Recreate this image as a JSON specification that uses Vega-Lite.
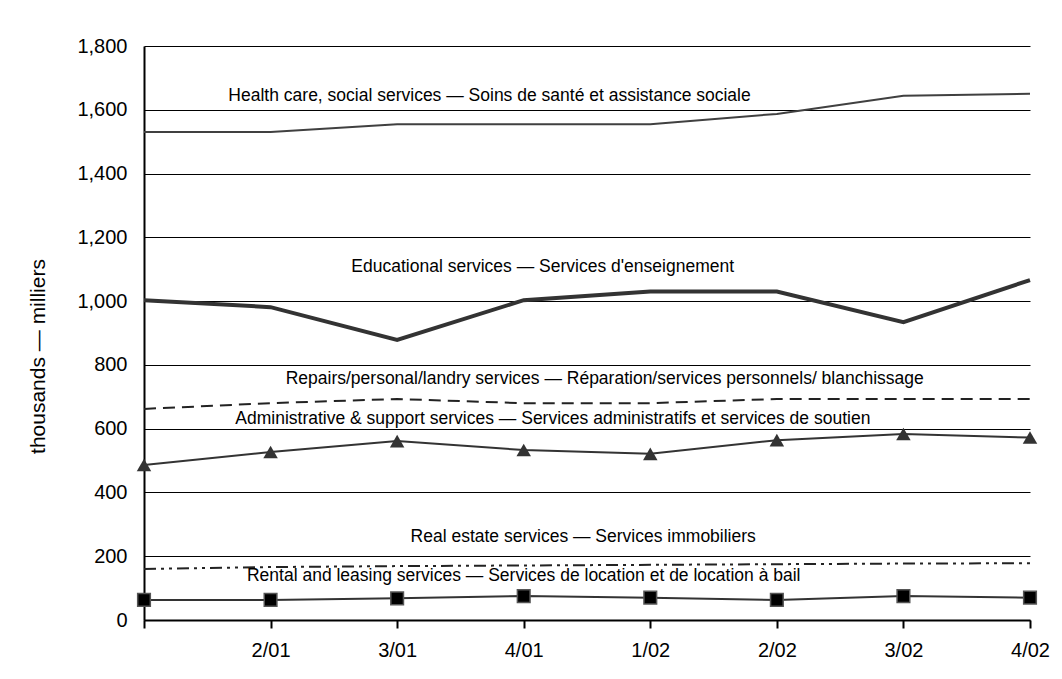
{
  "$schema": "https://vega.github.io/schema/vega-lite/v6.json",
  "width": 886,
  "height": 574,
  "autosize": {"type": "none"},
  "padding": {"left": 144, "top": 46, "right": 32, "bottom": 59},
  "background": "white",
  "config": {
    "view": {"stroke": null},
    "font": "Liberation Sans",
    "axis": {"labelColor": "#000", "titleColor": "#000", "labelFont": "Liberation Sans", "titleFont": "Liberation Sans"}
  },
  "datasets": {
    "series": [
      {"quarter": "1/01", "series": "Health", "value": 1530},
      {"quarter": "2/01", "series": "Health", "value": 1530},
      {"quarter": "3/01", "series": "Health", "value": 1555},
      {"quarter": "4/01", "series": "Health", "value": 1555},
      {"quarter": "1/02", "series": "Health", "value": 1555},
      {"quarter": "2/02", "series": "Health", "value": 1587},
      {"quarter": "3/02", "series": "Health", "value": 1644},
      {"quarter": "4/02", "series": "Health", "value": 1650},
      {"quarter": "1/01", "series": "Educational", "value": 1003},
      {"quarter": "2/01", "series": "Educational", "value": 981},
      {"quarter": "3/01", "series": "Educational", "value": 878},
      {"quarter": "4/01", "series": "Educational", "value": 1003},
      {"quarter": "1/02", "series": "Educational", "value": 1030},
      {"quarter": "2/02", "series": "Educational", "value": 1030},
      {"quarter": "3/02", "series": "Educational", "value": 934},
      {"quarter": "4/02", "series": "Educational", "value": 1066},
      {"quarter": "1/01", "series": "Repairs", "value": 662},
      {"quarter": "2/01", "series": "Repairs", "value": 680},
      {"quarter": "3/01", "series": "Repairs", "value": 693},
      {"quarter": "4/01", "series": "Repairs", "value": 680},
      {"quarter": "1/02", "series": "Repairs", "value": 680},
      {"quarter": "2/02", "series": "Repairs", "value": 693},
      {"quarter": "3/02", "series": "Repairs", "value": 693},
      {"quarter": "4/02", "series": "Repairs", "value": 693},
      {"quarter": "1/01", "series": "Admin", "value": 486},
      {"quarter": "2/01", "series": "Admin", "value": 527},
      {"quarter": "3/01", "series": "Admin", "value": 561},
      {"quarter": "4/01", "series": "Admin", "value": 533},
      {"quarter": "1/02", "series": "Admin", "value": 521},
      {"quarter": "2/02", "series": "Admin", "value": 564},
      {"quarter": "3/02", "series": "Admin", "value": 583},
      {"quarter": "4/02", "series": "Admin", "value": 572},
      {"quarter": "1/01", "series": "RealEstate", "value": 160},
      {"quarter": "2/01", "series": "RealEstate", "value": 166},
      {"quarter": "3/01", "series": "RealEstate", "value": 169},
      {"quarter": "4/01", "series": "RealEstate", "value": 171},
      {"quarter": "1/02", "series": "RealEstate", "value": 173},
      {"quarter": "2/02", "series": "RealEstate", "value": 175},
      {"quarter": "3/02", "series": "RealEstate", "value": 177},
      {"quarter": "4/02", "series": "RealEstate", "value": 178},
      {"quarter": "1/01", "series": "Rental", "value": 63},
      {"quarter": "2/01", "series": "Rental", "value": 63},
      {"quarter": "3/01", "series": "Rental", "value": 68},
      {"quarter": "4/01", "series": "Rental", "value": 75},
      {"quarter": "1/02", "series": "Rental", "value": 70},
      {"quarter": "2/02", "series": "Rental", "value": 63},
      {"quarter": "3/02", "series": "Rental", "value": 75},
      {"quarter": "4/02", "series": "Rental", "value": 70}
    ],
    "labels": [
      {"pos": 2.73, "value": 1643, "text": "Health care, social services — Soins de santé et assistance sociale"},
      {"pos": 3.15, "value": 1107, "text": "Educational services — Services d'enseignement"},
      {"pos": 3.64, "value": 756, "text": "Repairs/personal/landry services — Réparation/services personnels/ blanchissage"},
      {"pos": 3.23, "value": 630, "text": "Administrative & support services — Services administratifs et services de soutien"},
      {"pos": 3.47, "value": 260, "text": "Real estate services — Services immobiliers"},
      {"pos": 3.0, "value": 138, "text": "Rental and leasing services — Services de location et de location à bail"}
    ]
  },
  "layer": [
    {
      "data": {"name": "series"},
      "encoding": {
        "x": {
          "field": "quarter",
          "type": "ordinal",
          "scale": {"type": "point", "padding": 0, "domain": ["1/01", "2/01", "3/01", "4/01", "1/02", "2/02", "3/02", "4/02"]},
          "axis": {
            "title": null,
            "labelAngle": 0,
            "labelExpr": "datum.value === '1/01' ? '' : datum.label",
            "labelFontSize": 20,
            "labelPadding": 12,
            "tickSize": 8,
            "tickColor": "#000",
            "tickWidth": 2,
            "domainColor": "#000",
            "domainWidth": 2,
            "grid": false
          }
        },
        "y": {
          "field": "value",
          "type": "quantitative",
          "scale": {"domain": [0, 1800], "nice": false},
          "axis": {
            "title": "thousands — milliers",
            "titleFontSize": 21,
            "titleFontWeight": "normal",
            "titlePadding": 28,
            "titleY": 310,
            "values": [0, 200, 400, 600, 800, 1000, 1200, 1400, 1600, 1800],
            "format": ",d",
            "labelFontSize": 20,
            "labelPadding": 17,
            "ticks": false,
            "grid": true,
            "gridColor": "#000",
            "gridWidth": 1,
            "gridOpacity": 1,
            "domainColor": "#000",
            "domainWidth": 2
          }
        }
      },
      "layer": [
        {
          "transform": [{"filter": "datum.series === 'Health'"}],
          "mark": {"type": "line", "color": "#404040", "strokeWidth": 2}
        },
        {
          "transform": [{"filter": "datum.series === 'Educational'"}],
          "mark": {"type": "line", "color": "#333333", "strokeWidth": 4}
        },
        {
          "transform": [{"filter": "datum.series === 'Repairs'"}],
          "mark": {"type": "line", "color": "#222222", "strokeWidth": 2, "strokeDash": [12, 7]}
        },
        {
          "transform": [{"filter": "datum.series === 'Admin'"}],
          "mark": {"type": "line", "color": "#333333", "strokeWidth": 2}
        },
        {
          "transform": [{"filter": "datum.series === 'Admin'"}],
          "mark": {"type": "point", "shape": "triangle-up", "filled": true, "color": "#333333", "opacity": 1, "size": 210}
        },
        {
          "transform": [{"filter": "datum.series === 'RealEstate'"}],
          "mark": {"type": "line", "color": "#222222", "strokeWidth": 2, "strokeDash": [12, 5, 3, 5, 3, 5]}
        },
        {
          "transform": [{"filter": "datum.series === 'Rental'"}],
          "mark": {"type": "line", "color": "#333333", "strokeWidth": 2}
        },
        {
          "transform": [{"filter": "datum.series === 'Rental'"}],
          "mark": {"type": "point", "shape": "square", "filled": true, "fill": "#000", "stroke": "#555", "strokeWidth": 1.5, "opacity": 1, "size": 160}
        }
      ]
    },
    {
      "data": {"name": "labels"},
      "mark": {"type": "text", "fontSize": 17.5, "color": "#000", "align": "center", "baseline": "middle", "font": "Liberation Sans"},
      "encoding": {
        "x": {"field": "pos", "type": "quantitative", "scale": {"domain": [0, 7], "nice": false, "zero": false}, "axis": null},
        "y": {"field": "value", "type": "quantitative"},
        "text": {"field": "text"}
      }
    }
  ],
  "resolve": {"scale": {"x": "independent"}}
}
